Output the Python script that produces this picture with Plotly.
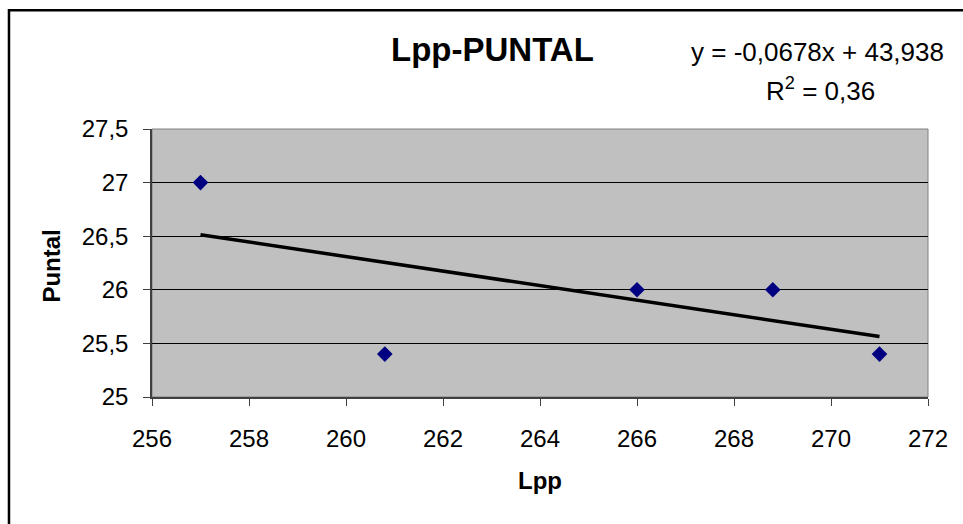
import plotly.graph_objects as go

# Data
lpp = [257, 260.8, 266, 268.8, 271]
puntal = [27, 25.4, 26, 26, 25.4]
slope = -0.0678
intercept = 43.938
trend_x = [257, 271]
trend_y = [slope * x + intercept for x in trend_x]
x_ticks = [256, 258, 260, 262, 264, 266, 268, 270, 272]
y_ticks = [25, 25.5, 26, 26.5, 27, 27.5]
title_text = "Lpp-PUNTAL"
eq_text = "y = -0,0678x + 43,938"
r2_text = "R<sup>2</sup> = 0,36"

FONT = "Liberation Sans, Arial, sans-serif"

fig = go.Figure()
fig.add_trace(go.Scatter(
    x=trend_x, y=trend_y, mode="lines",
    line=dict(color="black", width=3.5), showlegend=False, hoverinfo="skip"))
fig.add_trace(go.Scatter(
    x=lpp, y=puntal, mode="markers",
    marker=dict(symbol="diamond", size=12, color="#000080", line=dict(width=0)),
    showlegend=False))

fig.update_layout(
    width=963, height=524,
    margin=dict(l=152, r=35, t=129, b=127),
    paper_bgcolor="white",
    plot_bgcolor="#C0C0C0",
    font=dict(family=FONT, size=24, color="black"),
    separators=",.",
    xaxis=dict(
        range=[256, 272], tickvals=x_ticks, ticktext=[str(v) for v in x_ticks],
        showgrid=False, zeroline=False,
        showline=True, linecolor="#404040", linewidth=1.5,
        ticks="outside", ticklen=7, tickcolor="#404040", tickwidth=1,
        ticklabelstandoff=12,
        tickfont=dict(size=24),
    ),
    yaxis=dict(
        range=[25, 27.5], tickvals=y_ticks,
        ticktext=[str(v).replace(".", ",").replace(",0", "") for v in y_ticks],
        showgrid=True, gridcolor="black", gridwidth=1, zeroline=False,
        showline=True, linecolor="#404040", linewidth=1.5,
        ticks="outside", ticklen=7, tickcolor="#404040", tickwidth=1,
        ticklabelstandoff=10,
        tickfont=dict(size=24),
    ),
    shapes=[
        # plot-area border (top/right gray)
        dict(type="rect", xref="x domain", yref="y domain", x0=0, x1=1, y0=0, y1=1,
             line=dict(color="#808080", width=1), layer="below"),
        # outer chart border
        dict(type="rect", xref="paper", yref="paper",
             x0=-0.1843, x1=1.2, y0=-0.6, y1=1.443,
             line=dict(color="black", width=2.5)),
    ],
    annotations=[
        dict(text="<b>" + title_text + "</b>", xref="paper", yref="paper",
             x=0.4385, y=1.298, showarrow=False, xanchor="center", yanchor="middle",
             font=dict(size=33)),
        dict(text=eq_text, xref="paper", yref="paper",
             x=0.858, y=1.287, showarrow=False, xanchor="center", yanchor="middle",
             font=dict(size=26)),
        dict(text=r2_text, xref="paper", yref="paper",
             x=0.861, y=1.146, showarrow=False, xanchor="center", yanchor="middle",
             font=dict(size=26)),
        dict(text="<b>Lpp</b>", xref="paper", yref="paper",
             x=0.5, y=-0.31, showarrow=False, xanchor="center", yanchor="middle",
             font=dict(size=24)),
        dict(text="<b>Puntal</b>", xref="paper", yref="paper",
             x=-0.129, y=0.49, showarrow=False, xanchor="center", yanchor="middle",
             textangle=-90, font=dict(size=24)),
    ],
)

fig.write_html("out.html")
